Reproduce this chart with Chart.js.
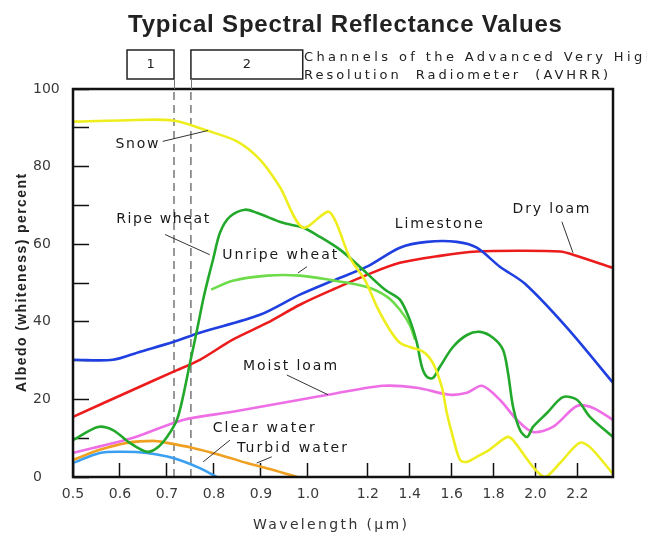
<!DOCTYPE html>
<html>
<head>
<meta charset="utf-8">
<title>Typical Spectral Reflectance Values</title>
<script src="https://cdn.jsdelivr.net/npm/chart.js@4.4.1/dist/chart.umd.min.js"></script>
<style>
  html, body { margin: 0; padding: 0; background: #fff; }
  #wrap { width: 647px; height: 535px; position: relative; }
</style>
</head>
<body>
<div id="wrap"><canvas id="chart"></canvas></div>
<script>
// axis ticks (the wavelength axis is stretched below 1.0 um, like the original)
const xTickValues = [0.5, 0.6, 0.7, 0.8, 0.9, 1.0, 1.2, 1.4, 1.6, 1.8, 2.0, 2.2];
const xTickLabels = ['0.5', '0.6', '0.7', '0.8', '0.9', '1.0', '1.2', '1.4', '1.6', '1.8', '2.0', '2.2'];
const yTickValues = [0, 20, 40, 60, 80, 100];
const xBreakWl = [0.5, 1.0, 1.2, 2.37];
const xBreakFrac = [0, 0.435, 0.546, 1];

// AVHRR channel boxes (um)
const channel1 = [0.615, 0.715];
const channel2 = [0.751, 0.989];

// spectra: wavelength (um) / albedo (%)
const snowWl = [0.5, 0.6, 0.713, 0.785, 0.849, 0.898, 0.94, 0.989, 1.067, 1.093, 1.14, 1.19, 1.243, 1.305, 1.353, 1.4, 1.463, 1.51, 1.553, 1.577, 1.606, 1.64, 1.673, 1.72, 1.78, 1.864, 1.893, 1.988, 2.045, 2.117, 2.21, 2.26, 2.37];
const snowVal = [91.6, 91.9, 91.9, 89.3, 86.5, 81.8, 74.8, 64.3, 68.4, 65.8, 56.5, 50.8, 43.9, 37.9, 34.6, 33.5, 32.3, 29.4, 23.2, 16.5, 10.3, 4.4, 3.9, 5.2, 7.0, 10.3, 9.5, 2.6, 0, 3.6, 8.8, 7.7, 0.8];

const ripeWl = [0.5, 0.553, 0.585, 0.621, 0.657, 0.679, 0.7, 0.721, 0.734, 0.749, 0.764, 0.777, 0.787, 0.798, 0.813, 0.834, 0.866, 0.891, 0.947, 0.989, 1.04, 1.107, 1.173, 1.281, 1.353, 1.4, 1.434, 1.458, 1.482, 1.51, 1.544, 1.606, 1.673, 1.735, 1.797, 1.845, 1.869, 1.893, 1.926, 1.96, 1.988, 2.055, 2.131, 2.198, 2.26, 2.37];
const ripeVal = [9.5, 12.9, 12.1, 8.8, 6.5, 7.5, 10.3, 14.7, 20.6, 29.4, 37.9, 45.7, 50.8, 56.0, 63.0, 67.1, 68.9, 68.1, 65.5, 64.3, 61.9, 58.6, 54.2, 48.3, 45.7, 40.5, 34.6, 28.4, 25.8, 25.5, 28.4, 33.5, 36.6, 37.4, 35.9, 32.8, 26.8, 18.1, 12.1, 10.3, 12.9, 16.5, 20.6, 19.9, 15.5, 10.3];

const unripeWl = [0.794, 0.84, 0.913, 0.983, 1.073, 1.197, 1.291, 1.353, 1.4, 1.425];
const unripeVal = [48.3, 50.6, 51.9, 51.9, 50.8, 49.0, 46.5, 43.1, 39.2, 35.4];

const limeWl = [0.5, 0.585, 0.643, 0.713, 0.77, 0.898, 0.983, 1.083, 1.197, 1.353, 1.482, 1.625, 1.72, 1.83, 1.95, 2.15, 2.37];
const limeVal = [30.2, 30.2, 32.3, 34.8, 37.2, 41.8, 47.0, 50.6, 54.2, 59.1, 60.6, 60.6, 59.1, 54.2, 49.8, 38.5, 24.3];

const dryWl = [0.5, 0.628, 0.713, 0.77, 0.84, 0.913, 0.983, 1.083, 1.197, 1.353, 1.544, 1.72, 1.926, 2.117, 2.179, 2.37];
const dryVal = [15.5, 22.5, 27.1, 30.2, 35.4, 39.7, 44.4, 48.3, 52.1, 55.2, 57.0, 58.1, 58.3, 58.1, 57.3, 53.9];

const moistWl = [0.5, 0.628, 0.734, 0.84, 0.983, 1.083, 1.272, 1.434, 1.592, 1.673, 1.745, 1.83, 1.912, 1.988, 2.083, 2.198, 2.275, 2.37];
const moistVal = [6.2, 10.1, 14.7, 16.8, 19.9, 21.4, 23.5, 23.0, 21.2, 21.7, 23.5, 19.9, 14.7, 11.6, 12.9, 18.3, 17.8, 14.7];

const clearWl = [0.5, 0.557, 0.606, 0.657, 0.713, 0.77, 0.806];
const clearVal = [3.6, 6.2, 6.5, 6.2, 4.9, 2.3, 0];

const turbidWl = [0.5, 0.557, 0.615, 0.67, 0.7, 0.755, 0.813, 0.87, 0.926, 0.977];
const turbidVal = [4.4, 7.0, 8.8, 9.3, 8.8, 7.5, 5.7, 3.6, 1.8, 0];

// curve labels with their leader lines, in data units
const curveLabels = [
  { text: 'Snow', at: [0.636, 85.7], w: 43, leader: [[0.691, 86.5], [0.787, 89.3]] },
  { text: 'Ripe wheat', at: [0.691, 66.3], w: 93, leader: [[0.696, 62.5], [0.791, 57.3]] },
  { text: 'Unripe wheat', at: [0.94, 57.0], w: 115, leader: [[0.998, 54.2], [0.979, 52.6]] },
  { text: 'Limestone', at: [1.539, 65.0], w: 88 },
  { text: 'Dry loam', at: [2.074, 68.9], w: 77, leader: [[2.126, 65.8], [2.179, 57.8]] },
  { text: 'Moist loam', at: [0.962, 28.6], w: 94, leader: [[0.955, 26.3], [1.067, 21.2]] },
  { text: 'Clear water', at: [0.906, 12.6], w: 102, leader: [[0.834, 9.5], [0.777, 3.9]] },
  { text: 'Turbid water', at: [0.966, 7.5], w: 110, leader: [[0.923, 5.2], [0.891, 3.6]] }
];

function warpFrac(v) {
  let i = 0;
  while (i < xBreakWl.length - 2 && v > xBreakWl[i + 1]) i++;
  const t = (v - xBreakWl[i]) / (xBreakWl[i + 1] - xBreakWl[i]);
  return xBreakFrac[i] + t * (xBreakFrac[i + 1] - xBreakFrac[i]);
}

function warpValue(f) {
  let i = 0;
  while (i < xBreakFrac.length - 2 && f > xBreakFrac[i + 1]) i++;
  const t = (f - xBreakFrac[i]) / (xBreakFrac[i + 1] - xBreakFrac[i]);
  return xBreakWl[i] + t * (xBreakWl[i + 1] - xBreakWl[i]);
}

class WarpScale extends Chart.LinearScale {
  getPixelForValue(value) {
    return this.getPixelForDecimal(warpFrac(value));
  }
  getValueForPixel(pixel) {
    return warpValue(this.getDecimalForPixel(pixel));
  }
}
WarpScale.id = 'warp';
WarpScale.defaults = {};
Chart.register(WarpScale);

function series(label, wl, val, color) {
  return {
    label,
    data: wl.map((x, i) => ({ x, y: val[i] })),
    borderColor: color,
    borderWidth: 2.6,
    pointRadius: 0,
    tension: 0.3,
    fill: false
  };
}

function edgeLine(wl) {
  return {
    label: 'edge',
    data: [{ x: wl, y: 0 }, { x: wl, y: 100 }],
    borderColor: '#555',
    borderWidth: 1.2,
    borderDash: [8, 5],
    pointRadius: 0,
    fill: false
  };
}

// draw text stretched/compressed to a given width (the scan uses wide letter spacing)
function spacedText(ctx, text, x, y, width) {
  ctx.letterSpacing = '0px';
  const w = ctx.measureText(text).width;
  const sp = (width - w) / Math.max(1, text.length - 1);
  ctx.letterSpacing = sp.toFixed(2) + 'px';
  ctx.textAlign = 'left';
  ctx.fillText(text, x - width / 2, y);
  ctx.letterSpacing = '0px';
}

const decorations = {
  id: 'decorations',
  afterDatasetsDraw(chart) {
    const { ctx, chartArea: a, scales: { x, y } } = chart;
    ctx.save();

    // frame around plot
    ctx.strokeStyle = '#111';
    ctx.lineWidth = 2.5;
    ctx.strokeRect(a.left, a.top, a.right - a.left, a.bottom - a.top);

    // curve labels
    ctx.fillStyle = '#1a1a1a';
    ctx.strokeStyle = '#333';
    ctx.lineWidth = 1;
    ctx.font = '14px "DejaVu Sans"';
    ctx.textBaseline = 'middle';
    curveLabels.forEach(l => {
      spacedText(ctx, l.text, x.getPixelForValue(l.at[0]), y.getPixelForValue(l.at[1]), l.w);
      if (l.leader) {
        ctx.beginPath();
        ctx.moveTo(x.getPixelForValue(l.leader[0][0]), y.getPixelForValue(l.leader[0][1]));
        ctx.lineTo(x.getPixelForValue(l.leader[1][0]), y.getPixelForValue(l.leader[1][1]));
        ctx.stroke();
      }
    });
    ctx.restore();
  },
  afterDraw(chart) {
    const { ctx, chartArea: a, scales: { x } } = chart;
    ctx.save();
    ctx.fillStyle = '#222';
    ctx.textBaseline = 'alphabetic';

    // title
    ctx.font = 'bold 24px "Liberation Sans"';
    spacedText(ctx, 'Typical Spectral Reflectance Values', 345, 32, 434);

    // channel boxes
    const boxTop = 50, boxBottom = 79;
    ctx.strokeStyle = '#222';
    ctx.lineWidth = 1.5;
    ctx.font = '13px "DejaVu Sans"';
    ctx.textBaseline = 'middle';
    [[channel1, '1'], [channel2, '2']].forEach(([ch, name]) => {
      const l = x.getPixelForValue(ch[0]);
      const r = x.getPixelForValue(ch[1]);
      ctx.strokeRect(l, boxTop, r - l, boxBottom - boxTop);
      ctx.textAlign = 'center';
      ctx.fillText(name, (l + r) / 2, 65);
    });

    // connectors from the boxes down to the plot
    ctx.strokeStyle = '#777';
    ctx.lineWidth = 1;
    [channel1[1], channel2[0]].forEach(wl => {
      const px = Math.round(x.getPixelForValue(wl)) + 0.5;
      ctx.beginPath();
      ctx.moveTo(px, boxBottom);
      ctx.lineTo(px, a.top);
      ctx.stroke();
    });

    spacedText(ctx, 'Channels of the Advanced Very High', 304 + 175, 58, 350);
    spacedText(ctx, 'Resolution  Radiometer  (AVHRR)', 304 + 152, 76, 304);

    // axis titles
    ctx.fillStyle = '#333';
    ctx.font = '14px "DejaVu Sans"';
    spacedText(ctx, 'Wavelength (µm)', (a.left + a.right) / 2 - 13, 525, 154);

    ctx.fillStyle = '#222';
    ctx.font = 'bold 14px "Liberation Sans"';
    ctx.translate(a.left - 51, (a.top + a.bottom) / 2);
    ctx.rotate(-Math.PI / 2);
    spacedText(ctx, 'Albedo (whiteness) percent', 0, 0, 218);
    ctx.restore();
  }
};

const tickFont = { family: 'DejaVu Sans', size: 14 };

new Chart(document.getElementById('chart'), {
  type: 'line',
  data: {
    datasets: [
      series('Snow', snowWl, snowVal, '#eeee1e'),
      series('Ripe wheat', ripeWl, ripeVal, '#22a82a'),
      series('Unripe wheat', unripeWl, unripeVal, '#6edc4a'),
      series('Limestone', limeWl, limeVal, '#1f3fe0'),
      series('Dry loam', dryWl, dryVal, '#ec1c1c'),
      series('Moist loam', moistWl, moistVal, '#ee6ee6'),
      series('Clear water', clearWl, clearVal, '#3a9ff0'),
      series('Turbid water', turbidWl, turbidVal, '#f0a020'),
      edgeLine(channel1[1]),
      edgeLine(channel2[0])
    ]
  },
  options: {
    responsive: true,
    maintainAspectRatio: false,
    animation: false,
    events: [],
    layout: { padding: { top: 89, right: 34, bottom: 0, left: 33 } },
    plugins: {
      legend: { display: false },
      tooltip: { enabled: false },
      title: { display: false }
    },
    scales: {
      x: {
        type: 'warp',
        min: 0.5,
        max: 2.37,
        afterBuildTicks: s => { s.ticks = xTickValues.map(v => ({ value: v })); },
        afterFit: s => { s.height = 58; },
        border: { display: false },
        grid: { drawOnChartArea: false, tickLength: -14, tickColor: '#111', tickWidth: 1.5 },
        ticks: {
          autoSkip: false,
          maxRotation: 0,
          padding: 23,
          color: '#3a3a3a',
          font: tickFont,
          callback: (v, i) => xTickLabels[i]
        }
      },
      y: {
        min: 0,
        max: 100,
        afterFit: s => { s.width = 40; },
        border: { display: false },
        grid: { drawOnChartArea: false, tickLength: -16, tickColor: '#111', tickWidth: 1.5 },
        ticks: {
          stepSize: 10,
          crossAlign: 'far',
          padding: 30,
          color: '#3a3a3a',
          font: tickFont,
          callback: v => (yTickValues.includes(v) ? String(v) : '')
        }
      }
    }
  },
  plugins: [decorations]
});
</script>
</body>
</html>
